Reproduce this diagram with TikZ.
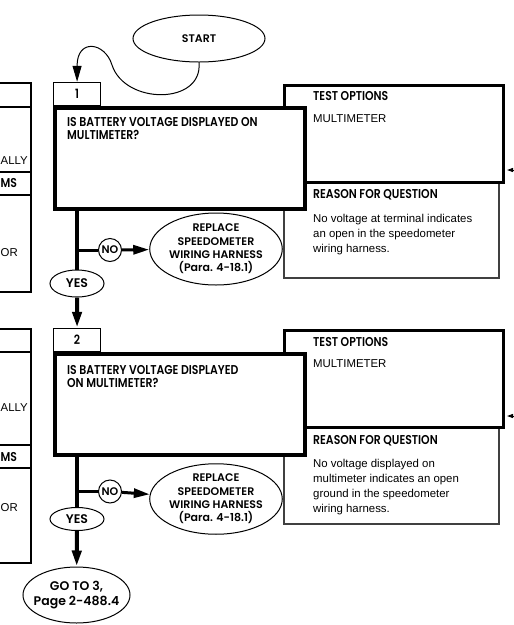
\documentclass[tikz,border=0pt]{standalone}
\usepackage{fontspec}
\setmainfont{Liberation Sans}
\newfontfamily\headfont{Poppins SemiBold}[FakeStretch=0.85]
\newfontfamily\ovalfont{Poppins SemiBold}
\usetikzlibrary{positioning,shapes.geometric,arrows.meta}
\tikzset{>={Triangle[length=16pt,width=9pt]}}

\begin{document}
\begin{tikzpicture}[x=1pt,y=-1pt,
  every node/.style={inner sep=0pt},
  hd/.style={font=\headfont\fontsize{12.8}{12.4}\selectfont},
  bd/.style={font=\fontsize{11.4}{15}\selectfont},
  ov/.style={font=\ovalfont\fontsize{11}{13.3}\selectfont},
  big/.style={font=\ovalfont\fontsize{12.5}{15}\selectfont},
  numbox/.style={draw,line width=1.2pt,minimum width=47pt,minimum height=23pt,anchor=south west,hd},
  qbox/.style={draw,fill=white,line width=4pt,minimum width=250pt,minimum height=101pt,anchor=north west},
  tbox/.style={draw,fill=white,line width=3pt,minimum width=219pt,minimum height=97pt,anchor=north west},
  rbox/.style={draw=black!75,line width=1.5pt,minimum width=215pt,minimum height=96pt,anchor=north west},
  oval/.style={ellipse,draw,line width=1pt,ov,align=center},
  flow/.style={line width=4pt},
  side/.style={line width=3pt},
  tick/.style={line width=1pt,-{Triangle[length=6pt,width=4pt]}},
]
\useasboundingbox (0,0) rectangle (514,625);
\clip (0,0) rectangle (514,625);

% start
\node[oval,minimum width=132pt,minimum height=47pt] (start) at (199,38.5) {START};

% left column (cut off)
\draw[line width=1.2pt] (-5,83) rectangle (31,292);
\draw[line width=1.2pt] (-5,107) -- (31,107) (-5,172) -- (31,172) (-5,195) -- (31,195);
\node[bd,anchor=base west] (ally1) at (0.5,164) {ALLY};
\node[hd,anchor=base west] (ms1) at (0.5,187) {MS};
\node[bd,anchor=base west] (or1) at (0.5,256) {OR};
\draw[line width=1.2pt] (-5,329) rectangle (31,563);
\draw[line width=1.2pt] (-5,352) -- (31,352) (-5,445) -- (31,445) (-5,468) -- (31,468);
\node[bd,anchor=base west] (ally2) at (0.5,411) {ALLY};
\node[hd,anchor=base west] (ms2) at (0.5,461) {MS};
\node[bd,anchor=base west] (or2) at (0.5,511) {OR};

% step 1
\node[rbox] (reason1) at (283,181) {};
\node[tbox] (test1) at (283,84) {};
\node[qbox] (quest1) at (53,106) {};
\node[numbox] (num1) at (53,106) {1};
\node[hd,anchor=base west,align=left] (q1) at (67,139) {IS BATTERY VOLTAGE DISPLAYED ON\\MULTIMETER?};
\node[hd,anchor=base west] (t1) at (313,100) {TEST OPTIONS};
\node[bd,anchor=base west] (m1) at (313,122) {MULTIMETER};
\node[hd,anchor=base west] (r1) at (313,198) {REASON FOR QUESTION};
\node[bd,anchor=base west,align=left] (why1) at (313,252) {No voltage at terminal indicates\\an open in the speedometer\\wiring harness.};
\coordinate (edge1) at (516,170);
\draw[tick] (edge1) -- ([xshift=2pt]test1.east |- edge1);

\draw[line width=1pt,->] (start.south) .. controls (203,105) and (125,105) .. (112,65)
  .. controls (105,42) and (77,38) .. (num1.north);

\node[oval,big,minimum width=54pt,minimum height=27pt] (yes1) at (77,283.5) {YES};
\node[circle,draw,line width=1pt,minimum size=23pt,ov] (no1) at (110,250) {NO};
\node[oval,minimum width=128pt,minimum height=72pt] (repl1) at (216,249) {REPLACE\\SPEEDOMETER\\WIRING HARNESS\\(Para. 4-18.1)};
\coordinate (j1) at (77,250);
\draw[flow] (yes1 |- quest1.south) -- (yes1.north);
\draw[side] (j1) -- (no1);
\draw[side,->] (no1) -- (repl1);

% step 2
\node[rbox] (reason2) at (283,427) {};
\node[tbox] (test2) at (283,329) {};
\node[qbox] (quest2) at (53,352) {};
\node[numbox] (num2) at (53,352) {2};
\node[hd,anchor=base west,align=left] (q2) at (67,387) {IS BATTERY VOLTAGE DISPLAYED\\ON MULTIMETER?};
\node[hd,anchor=base west] (t2) at (313,346) {TEST OPTIONS};
\node[bd,anchor=base west] (m2) at (313,367) {MULTIMETER};
\node[hd,anchor=base west] (r2) at (313,444) {REASON FOR QUESTION};
\node[bd,anchor=base west,align=left] (why2) at (313,512) {No voltage displayed on\\multimeter indicates an open\\ground in the speedometer\\wiring harness.};
\coordinate (edge2) at (516,416);
\draw[tick] (edge2) -- ([xshift=2pt]test2.east |- edge2);

\draw[flow,->] (yes1) -- (num2);

\node[oval,big,minimum width=54pt,minimum height=23pt] (yes2) at (77,519) {YES};
\node[circle,draw,line width=1pt,minimum size=23pt,ov] (no2) at (110,491.5) {NO};
\node[oval,minimum width=128pt,minimum height=70pt] (repl2) at (216,499) {REPLACE\\SPEEDOMETER\\WIRING HARNESS\\(Para. 4-18.1)};
\coordinate (j2) at (77,491.5);
\draw[flow] (yes2 |- quest2.south) -- (yes2.north);
\draw[side] (j2) -- (no2);
\draw[side,->] (no2) -- (repl2);

\node[oval,big,inner xsep=-7pt,minimum width=107pt,minimum height=56pt] (goto) at (76.5,595) {GO TO 3,\\Page 2-488.4};
\draw[flow,->] (yes2) -- (goto);
\end{tikzpicture}
\end{document}
